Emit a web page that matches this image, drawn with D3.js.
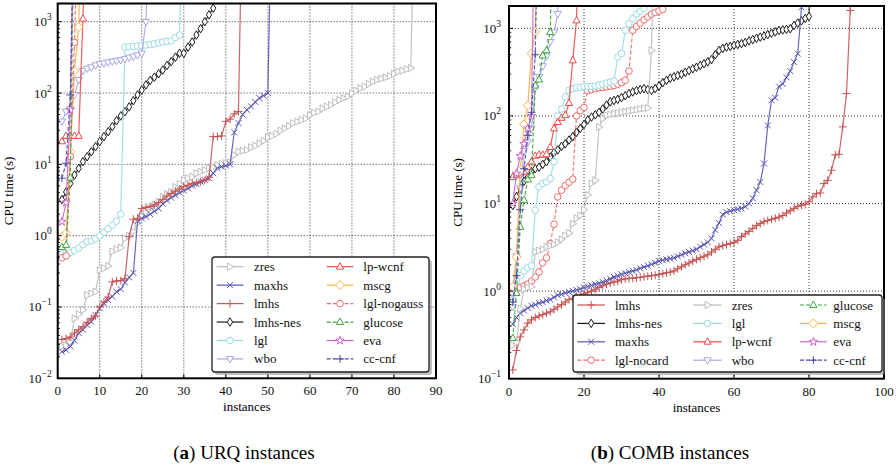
<!DOCTYPE html>
<html>
<head>
<meta charset="utf-8">
<script src="https://cdn.jsdelivr.net/npm/d3@7"></script>
<style>
  body { margin: 0; background: #fff; }
  svg, svg text { font-family: "Liberation Serif", "Times New Roman", Times, serif; }
</style>
</head>
<body>
<svg id="chart" width="896" height="468" font-family="Liberation Serif, Times New Roman, serif"></svg>
<script>
// ---------- URQ instances: sorted CPU times (s), one value per solved instance ----------
const urqZres = [0.028,0.029,0.032,0.069,0.079,0.091,0.147,0.155,0.164,0.33,
  0.35,0.376,0.60,0.645,0.68,0.92,0.99,1.14,1.49,1.85,
  2.17,2.42,2.7,3.0,3.5,3.85,4.1,4.8,5.3,6.0,
  6.4,6.7,7.5,7.9,8.3,8.8,9.1,9.7,10.1,10.4,
  10.6,13.5,15.1,15.6,15.9,17.4,18.3,19.7,21.5,24,
  25,26.7,29.7,32,34.5,37.7,39.7,42,44,49,
  53,55,61,64.5,68,74,80,84.5,89,99,
  108,117,123,134,145,153,159,166,174,185,
  200,206,216,223];
const urqMaxhs = [0.0236,0.025,0.028,0.034,0.043,0.048,0.056,0.062,0.077,0.096,
  0.113,0.125,0.14,0.164,0.177,0.22,0.26,0.30,1.6,1.75,
  1.85,2.0,2.2,2.4,2.8,3.1,3.4,3.7,4.0,4.3,
  4.6,5.0,5.3,5.7,6.0,6.4,7.5,8.8,9.3,9.6,
  10.0,28,38,50,58,65,75,85,92,100];
const urqLmhs = [0.035,0.036,0.038,0.043,0.048,0.053,0.061,0.069,0.075,0.10,
  0.117,0.138,0.225,0.232,0.234,0.25,0.97,1.7,1.75,2.4,
  2.5,2.55,2.7,2.9,3.2,3.6,3.9,4.2,4.5,4.9,
  5.1,5.4,5.5,5.7,6.0,6.6,24.5,24.5,25,40,
  43,51,55];
const urqLmhsNes = [3.2,4.1,5.4,7.1,8.8,10.9,12.8,15,17.7,20.8,
  24.5,28.7,33.8,41,47.7,54.8,64,78,94,110,
  130,150,167,186,210,243,276,318,361,361,
  440,520,650,800,1000,1250,1550];
const urqLgl = [0.55,0.56,0.58,0.62,0.67,0.75,0.82,0.85,0.9,1.0,
  1.12,1.25,1.4,1.6,2.0,440,445,450,455,460,
  470,480,490,505,520,530,540,600,650];
const urqWbo = [40,55,60,94,153,205,220,230,245,255,
  262,270,276,283,290,300,315,325,340,360,1000];
const urqLpWcnf = [21,25,25,25,25,1100];
const urqMscg = [0.96,1.08,15,204,840];
const urqLglNogauss = [0.49,0.52,12.8,510];
const urqGlucose = [0.69,0.74,6.5];
const urqEva = [1.57,2.9,58];
const urqCcCnf = [6.4,10.4,94];

// ---------- COMB instances ----------
const combLmhs = [0.126,0.21,0.3,0.36,0.43,0.47,0.5,0.52,0.54,0.56,
  0.58,0.62,0.66,0.7,0.75,0.8,0.83,0.87,0.9,0.93,
  0.97,1.0,1.05,1.1,1.15,1.2,1.24,1.27,1.3,1.35,
  1.38,1.4,1.4,1.42,1.44,1.46,1.48,1.5,1.52,1.55,
  1.58,1.62,1.65,1.7,1.8,1.9,2.0,2.1,2.2,2.3,
  2.4,2.5,2.6,2.8,3.0,3.2,3.3,3.4,3.5,3.6,
  3.8,4.2,4.5,4.8,5.2,5.6,5.9,6.2,6.4,6.6,
  6.8,7.0,7.3,7.8,8.3,8.8,9.3,9.6,9.8,10.5,
  11.9,13,13.2,16.9,18.4,24,36,36.5,75,180,1600];
const combLmhsNes = [9.5,12,15,18,20,23,25,26,28,30,
  34,38,41,45,48,53,58,65,72,80,
  90,97,103,110,120,133,145,150,155,162,
  170,180,188,195,200,205,200,196,205,220,
  240,255,270,280,290,300,315,330,345,360,
  378,395,415,440,500,560,590,610,622,640,
  655,670,690,720,745,770,795,820,850,880,
  910,945,960,975,990,1080,1150,1220,1300,1365];
const combMaxhs = [0.42,0.5,0.56,0.6,0.64,0.68,0.7,0.73,0.75,0.78,
  0.8,0.85,0.9,0.92,0.95,0.98,1.0,1.03,1.06,1.1,
  1.13,1.16,1.2,1.23,1.27,1.32,1.38,1.45,1.5,1.56,
  1.6,1.65,1.7,1.75,1.82,1.88,1.95,2.02,2.1,2.2,
  2.25,2.3,2.35,2.4,2.5,2.6,2.7,2.8,2.9,3.0,
  3.2,3.4,3.6,4.0,5.0,6.0,7.5,8.0,8.2,8.4,
  8.6,8.8,9.2,10,11.5,14.2,17.6,28.6,78,151,
  161,217,233,276,325,412,515,1740];
const combLglNocard = [0.95,1.05,1.1,1.15,1.2,1.3,1.45,1.65,2.1,2.4,
  3.5,5.8,11.9,14.2,16,17.5,19,100,115,125,
  195,200,205,210,212,215,218,222,230,240,
  255,325,950,1050,1150,1250,1350,1450,1520,1580,1650];
const combZres = [0.24,0.26,0.63,1.05,1.1,1.12,2.8,2.9,3.0,3.2,
  3.3,3.4,3.6,3.9,4.3,4.6,5.9,6.8,7.3,8.5,
  12.5,17,18.4,75,93,102,104,106,108,110,
  112,114,116,118,120,122,123,560];
const combLgl = [0.8,1.3,1.5,1.7,1.85,1.95,8.4,15.5,17,17.6,
  19.3,30,100,120,165,196,205,210,212,215,
  217,218,220,225,230,237,244,250,470,515,
  950,1130,1290,1460,1560,1680];
const combLpWcnf = [20,21,22,23,26,30,35,36,36,36.5,44,72,85,95,102,140,430,1230];
const combWbo = [0.66,2.5,15,40,50,72,210,280,370,480,700,900,1465];
const combGlucose = [0.29,0.95,5.4,11,18.8,21,222,260,490,560,905];
const combMscg = [1.12,2.46,24,80,132,515,920];
const combEva = [10,22,35,48,72,100];
const combCcCnf = [0.75,1.5,8.5,25,60,110,500];

// axis ticks
const urqXTicks = [0,10,20,30,40,50,60,70,80,90];
const urqYExps = [-2,-1,0,1,2,3];
const combXTicks = [0,20,40,60,80,100];
const combYExps = [-1,0,1,2,3];

// the first unsolved instance is plotted above the time axis so each curve ends in a climb
const UNSOLVED = 1e5;

const SERIF = "Liberation Serif, Times New Roman, serif";

// solver styles
const STYLE = {
  "zres":        { color: "#bdbdbd", dash: null,  marker: "triR" },
  "maxhs":       { color: "#5656b6", dash: null,  marker: "x" },
  "lmhs":        { color: "#c65454", dash: null,  marker: "plus" },
  "lmhs-nes":    { color: "#1c1c1c", dash: null,  marker: "thinDiamond" },
  "lgl":         { color: "#98dbe6", dash: null,  marker: "circle" },
  "wbo":         { color: "#a6a6e6", dash: null,  marker: "triD" },
  "lp-wcnf":     { color: "#ee4848", dash: null,  marker: "triU" },
  "mscg":        { color: "#ffb240", dash: null,  marker: "diamond" },
  "lgl-nogauss": { color: "#f26a6a", dash: "4,2", marker: "circle" },
  "lgl-nocard":  { color: "#f26a6a", dash: "4,2", marker: "circle" },
  "glucose":     { color: "#3aa63a", dash: "4,2", marker: "triU" },
  "eva":         { color: "#cc66cc", dash: null,  marker: "star" },
  "cc-cnf":      { color: "#4a4aa8", dash: "4,2", marker: "plus" }
};

const MARKERS = {
  circle: null,
  triU: "M0,-4L3.6,2.4L-3.6,2.4Z",
  triD: "M0,4L3.6,-2.4L-3.6,-2.4Z",
  triR: "M4,0L-2.4,3.6L-2.4,-3.6Z",
  plus: "M-4,0H4M0,-4V4",
  x: "M-3,-3L3,3M-3,3L3,-3",
  thinDiamond: "M0,-4.3L2.6,0L0,4.3L-2.6,0Z",
  diamond: "M0,-4.5L4.5,0L0,4.5L-4.5,0Z",
  star: d3.symbol(d3.symbolStar, 22)()
};

const svg = d3.select("#chart");
const defs = svg.append("defs");

function drawMarker(sel, kind, color, cx, cy) {
  if (kind === "circle") {
    sel.append("circle").attr("cx", cx).attr("cy", cy).attr("r", 3.3)
      .attr("fill", "#fff").attr("stroke", color).attr("stroke-width", 1);
  } else {
    const open = kind === "plus" || kind === "x";
    sel.append("path").attr("d", MARKERS[kind])
      .attr("transform", `translate(${cx},${cy})`)
      .attr("fill", open ? "none" : "#fff")
      .attr("stroke", color).attr("stroke-width", 1);
  }
}

function drawPanel(p) {
  const x = d3.scaleLinear().domain([p.xTicks[0], p.xTicks[p.xTicks.length - 1]]).range([p.left, p.right]);
  const y = d3.scaleLog().domain([p.yMin, p.yMax]).range([p.bottom, p.top]);
  const g = svg.append("g").attr("font-family", SERIF);

  defs.append("clipPath").attr("id", p.id).append("rect")
    .attr("x", p.left).attr("y", p.top)
    .attr("width", p.right - p.left).attr("height", p.bottom - p.top);

  // dotted grid
  const grid = g.append("g").attr("stroke", "#111").attr("stroke-width", 1)
    .attr("stroke-dasharray", "1,2").attr("opacity", 0.85);
  p.xTicks.slice(1, -1).forEach(t => {
    grid.append("line").attr("x1", x(t)).attr("x2", x(t)).attr("y1", p.top).attr("y2", p.bottom);
  });
  p.yExps.forEach(e => {
    const v = Math.pow(10, e);
    if (v <= p.yMin) return;
    grid.append("line").attr("x1", p.left).attr("x2", p.right).attr("y1", y(v)).attr("y2", y(v));
  });

  // series
  const plot = g.append("g").attr("clip-path", `url(#${p.id})`);
  p.series.forEach(s => {
    const st = STYLE[s.name];
    const pts = s.values.map((v, i) => [i + 1, v]);
    const linePts = pts.concat([[s.values.length + 1, UNSOLVED]]);
    plot.append("path")
      .attr("d", d3.line().x(d => x(d[0])).y(d => y(d[1]))(linePts))
      .attr("fill", "none").attr("stroke", st.color).attr("stroke-width", 1.2)
      .attr("stroke-opacity", 0.9)
      .attr("stroke-dasharray", st.dash);
    const mg = plot.append("g");
    pts.forEach(d => drawMarker(mg, st.marker, st.color, x(d[0]), y(d[1])));
  });

  // ticks (inward)
  const ticks = g.append("g").attr("stroke", "#000").attr("stroke-width", 1);
  p.xTicks.forEach(t => {
    ticks.append("line").attr("x1", x(t)).attr("x2", x(t)).attr("y1", p.bottom).attr("y2", p.bottom - 4);
  });
  p.yExps.forEach(e => {
    const v = Math.pow(10, e);
    ticks.append("line").attr("x1", p.left).attr("x2", p.left + 4).attr("y1", y(v)).attr("y2", y(v));
    for (let m = 2; m <= 9; m++) {
      const mv = m * v;
      if (mv > p.yMax) break;
      ticks.append("line").attr("x1", p.left).attr("x2", p.left + 2.2).attr("y1", y(mv)).attr("y2", y(mv));
    }
  });

  // spines
  g.append("rect").attr("x", p.left).attr("y", p.top)
    .attr("width", p.right - p.left).attr("height", p.bottom - p.top)
    .attr("fill", "none").attr("stroke", "#000").attr("stroke-width", 2);

  // tick labels
  const lab = g.append("g").attr("font-size", 13).attr("fill", "#111");
  p.xTicks.forEach(t => {
    lab.append("text").attr("x", x(t)).attr("y", p.bottom + 17).attr("text-anchor", "middle").text(t);
  });
  p.yExps.forEach(e => {
    const t = lab.append("text").attr("x", p.left - p.yLabelPad).attr("y", y(Math.pow(10, e)) + 4.5)
      .attr("text-anchor", "end");
    t.append("tspan").text("10");
    t.append("tspan").attr("font-size", 9.5).attr("dy", -6)
      .text(e < 0 ? "\u2212" + Math.abs(e) : String(e));
  });

  // axis titles
  g.append("text").attr("font-size", 13)
    .attr("transform", `translate(${p.left - p.yTitleOffset},${(p.top + p.bottom) / 2}) rotate(-90)`)
    .attr("text-anchor", "middle").text("CPU time (s)");
  g.append("text").attr("font-size", 13).attr("x", (p.left + p.right) / 2).attr("y", p.bottom + 33)
    .attr("text-anchor", "middle").text("instances");

  // caption
  const cap = g.append("text").attr("font-size", 19).attr("x", p.captionX).attr("y", 459)
    .attr("text-anchor", "middle");
  cap.append("tspan").text("(");
  cap.append("tspan").attr("font-weight", "bold").text(p.captionTag);
  cap.append("tspan").text(") " + p.caption);

  // legend
  const L = p.legend;
  const lg = g.append("g");
  lg.append("rect").attr("x", L.x + 3).attr("y", L.y + 3).attr("width", L.w).attr("height", L.h)
    .attr("rx", 3).attr("fill", "#8c8c8c").attr("opacity", 0.55);
  lg.append("rect").attr("x", L.x).attr("y", L.y).attr("width", L.w).attr("height", L.h)
    .attr("rx", 3).attr("fill", "#fff").attr("stroke", "#222").attr("stroke-width", 1.3);
  L.columns.forEach((col, ci) => {
    col.forEach((name, ri) => {
      const st = STYLE[name];
      const cy = L.y + L.firstRow + ri * L.rowGap;
      const [a, b] = L.lineX[ci];
      lg.append("line").attr("x1", a).attr("x2", b).attr("y1", cy).attr("y2", cy)
        .attr("stroke", st.color).attr("stroke-width", 1.2).attr("stroke-dasharray", st.dash);
      drawMarker(lg, st.marker, st.color, (a + b) / 2, cy);
      lg.append("text").attr("x", L.textX[ci]).attr("y", cy + 4.5).attr("font-size", 13)
        .attr("fill", "#111").text(name);
    });
  });
}

drawPanel({
  id: "clipUrq", left: 57.7, right: 436, top: 3.5, bottom: 378.3,
  xTicks: urqXTicks, yExps: urqYExps, yMin: 0.01, yMax: 1800,
  yLabelPad: 6, yTitleOffset: 45,
  captionX: 244, captionTag: "a", caption: "URQ instances",
  series: [
    { name: "zres", values: urqZres },
    { name: "maxhs", values: urqMaxhs },
    { name: "lmhs", values: urqLmhs },
    { name: "lmhs-nes", values: urqLmhsNes },
    { name: "lgl", values: urqLgl },
    { name: "wbo", values: urqWbo },
    { name: "lp-wcnf", values: urqLpWcnf },
    { name: "mscg", values: urqMscg },
    { name: "lgl-nogauss", values: urqLglNogauss },
    { name: "glucose", values: urqGlucose },
    { name: "eva", values: urqEva },
    { name: "cc-cnf", values: urqCcCnf }
  ],
  legend: {
    x: 212, y: 257, w: 217, h: 115, firstRow: 9.7, rowGap: 18.45,
    lineX: [[216.7, 243.3], [326.7, 353.3]], textX: [254, 363.3],
    columns: [["zres", "maxhs", "lmhs", "lmhs-nes", "lgl", "wbo"],
              ["lp-wcnf", "mscg", "lgl-nogauss", "glucose", "eva", "cc-cnf"]]
  }
});

drawPanel({
  id: "clipComb", left: 509, right: 884, top: 6, bottom: 378.7,
  xTicks: combXTicks, yExps: combYExps, yMin: 0.1, yMax: 1800,
  yLabelPad: 8, yTitleOffset: 47,
  captionX: 670, captionTag: "b", caption: "COMB instances",
  series: [
    { name: "lmhs", values: combLmhs },
    { name: "lmhs-nes", values: combLmhsNes },
    { name: "maxhs", values: combMaxhs },
    { name: "lgl-nocard", values: combLglNocard },
    { name: "zres", values: combZres },
    { name: "lgl", values: combLgl },
    { name: "lp-wcnf", values: combLpWcnf },
    { name: "wbo", values: combWbo },
    { name: "glucose", values: combGlucose },
    { name: "mscg", values: combMscg },
    { name: "eva", values: combEva },
    { name: "cc-cnf", values: combCcCnf }
  ],
  legend: {
    x: 573, y: 295, w: 309, h: 77, firstRow: 10, rowGap: 18.4,
    lineX: [[577.3, 605], [693.3, 721.7], [800, 826.7]], textX: [615, 731.7, 833.3],
    columns: [["lmhs", "lmhs-nes", "maxhs", "lgl-nocard"],
              ["zres", "lgl", "lp-wcnf", "wbo"],
              ["glucose", "mscg", "eva", "cc-cnf"]]
  }
});
</script>
</body>
</html>
